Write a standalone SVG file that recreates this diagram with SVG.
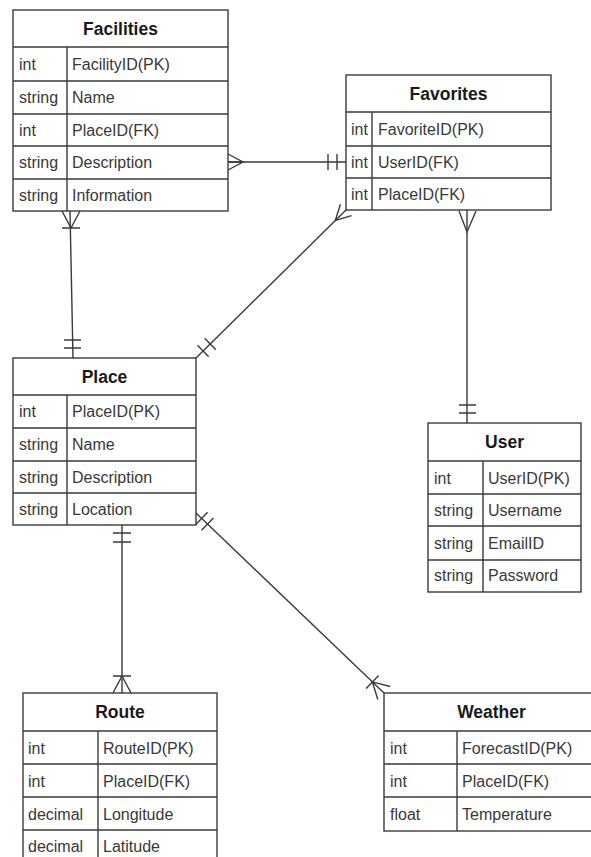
<svg xmlns="http://www.w3.org/2000/svg" width="591" height="857" viewBox="0 0 591 857">
<style>
.box{fill:#fff;stroke:#3a3a3a;stroke-width:1.4}
.ln{stroke:#3a3a3a;stroke-width:1.4;fill:none}
.hd{font-family:"Liberation Sans",Arial,sans-serif;font-size:17.5px;font-weight:bold;fill:#1a1a1a;text-anchor:middle}
.tx{font-family:"Liberation Sans",Arial,sans-serif;font-size:16px;fill:#383838}
.cn{stroke:#3a3a3a;stroke-width:1.4;fill:none}
</style>
<rect width="591" height="857" fill="#fff"/>

<g id="facilities">
<rect class="box" x="13" y="10" width="215" height="201"/>
<path class="ln" d="M13 47H228M13 81H228M13 114H228M13 146H228M13 179H228M67 47V211"/>
<text class="hd" x="120.5" y="35">Facilities</text>
<text class="tx" x="19" y="70">int</text><text class="tx" x="72" y="70">FacilityID(PK)</text>
<text class="tx" x="19" y="103">string</text><text class="tx" x="72" y="103">Name</text>
<text class="tx" x="19" y="136">int</text><text class="tx" x="72" y="136">PlaceID(FK)</text>
<text class="tx" x="19" y="168">string</text><text class="tx" x="72" y="168">Description</text>
<text class="tx" x="19" y="201">string</text><text class="tx" x="72" y="201">Information</text>
</g>

<g id="favorites">
<rect class="box" x="346" y="75" width="205" height="135"/>
<path class="ln" d="M346 112H551M346 146H551M346 178H551M372 112V210"/>
<text class="hd" x="448.5" y="100">Favorites</text>
<text class="tx" x="351" y="135">int</text><text class="tx" x="378" y="135">FavoriteID(PK)</text>
<text class="tx" x="351" y="168">int</text><text class="tx" x="378" y="168">UserID(FK)</text>
<text class="tx" x="351" y="200">int</text><text class="tx" x="378" y="200">PlaceID(FK)</text>
</g>

<g id="place">
<rect class="box" x="13" y="358" width="183" height="167"/>
<path class="ln" d="M13 395H196M13 428H196M13 461H196M13 493H196M67 395V525"/>
<text class="hd" x="104.5" y="383">Place</text>
<text class="tx" x="19" y="417">int</text><text class="tx" x="72" y="417">PlaceID(PK)</text>
<text class="tx" x="19" y="450">string</text><text class="tx" x="72" y="450">Name</text>
<text class="tx" x="19" y="483">string</text><text class="tx" x="72" y="483">Description</text>
<text class="tx" x="19" y="515">string</text><text class="tx" x="72" y="515">Location</text>
</g>

<g id="user">
<rect class="box" x="428" y="423" width="153" height="169"/>
<path class="ln" d="M428 461H581M428 494H581M428 526H581M428 560H581M483 461V592"/>
<text class="hd" x="504.5" y="448">User</text>
<text class="tx" x="434" y="484">int</text><text class="tx" x="488" y="484">UserID(PK)</text>
<text class="tx" x="434" y="516">string</text><text class="tx" x="488" y="516">Username</text>
<text class="tx" x="434" y="549">string</text><text class="tx" x="488" y="549">EmailID</text>
<text class="tx" x="434" y="581">string</text><text class="tx" x="488" y="581">Password</text>
</g>

<g id="route">
<rect class="box" x="23" y="693" width="194" height="170"/>
<path class="ln" d="M23 731H217M23 764H217M23 797H217M23 830H217M98 731V863"/>
<text class="hd" x="120" y="718">Route</text>
<text class="tx" x="28" y="754">int</text><text class="tx" x="103" y="754">RouteID(PK)</text>
<text class="tx" x="28" y="787">int</text><text class="tx" x="103" y="787">PlaceID(FK)</text>
<text class="tx" x="28" y="820">decimal</text><text class="tx" x="103" y="820">Longitude</text>
<text class="tx" x="28" y="852">decimal</text><text class="tx" x="103" y="852">Latitude</text>
</g>

<g id="weather">
<rect class="box" x="384" y="693" width="215" height="138"/>
<path class="ln" d="M384 731H599M384 764H599M384 797H599M457 731V831"/>
<text class="hd" x="491.5" y="718">Weather</text>
<text class="tx" x="390" y="754">int</text><text class="tx" x="462" y="754">ForecastID(PK)</text>
<text class="tx" x="390" y="787">int</text><text class="tx" x="462" y="787">PlaceID(FK)</text>
<text class="tx" x="390" y="820">float</text><text class="tx" x="462" y="820">Temperature</text>
</g>

<g id="connectors">
<!-- Facilities - Favorites -->
<path class="cn" d="M228 162H346"/>
<path class="cn" d="M228 154L243 162L228 170M228 162H243"/>
<path class="cn" d="M328 154V170M337 154V170"/>
<!-- Facilities - Place -->
<path class="cn" d="M70 211L73 358"/>
<path class="cn" d="M62 211L71 228L80 211M62 228H80"/>
<path class="cn" d="M64 340H81M64 348H81"/>
<!-- Favorites - Place -->
<path class="cn" d="M346 210L196 358"/>
<path class="cn" d="M340.4 204.3L335.3 220.5L351.6 215.7"/>
<path class="cn" d="M197.5 345.3L208.7 356.7M204.6 338.3L215.8 349.7"/>
<!-- Favorites - User -->
<path class="cn" d="M467 210V423"/>
<path class="cn" d="M459 211L467 232L476 211"/>
<path class="cn" d="M459 405H476M459 413H476"/>
<!-- Place - Route -->
<path class="cn" d="M122 525V693"/>
<path class="cn" d="M113 533H131M113 542H131"/>
<path class="cn" d="M113 693L122 676L131 693M113 676H131"/>
<!-- Place - Weather -->
<path class="cn" d="M196 513L384 693"/>
<path class="cn" d="M207.6 512.3L195.8 524.6M213.4 517.9L201.6 530.2"/>
<path class="cn" d="M377.8 699.5L372.4 681.9L390.2 686.5M366.2 688.4L378.6 675.4"/>
</g>
</svg>
